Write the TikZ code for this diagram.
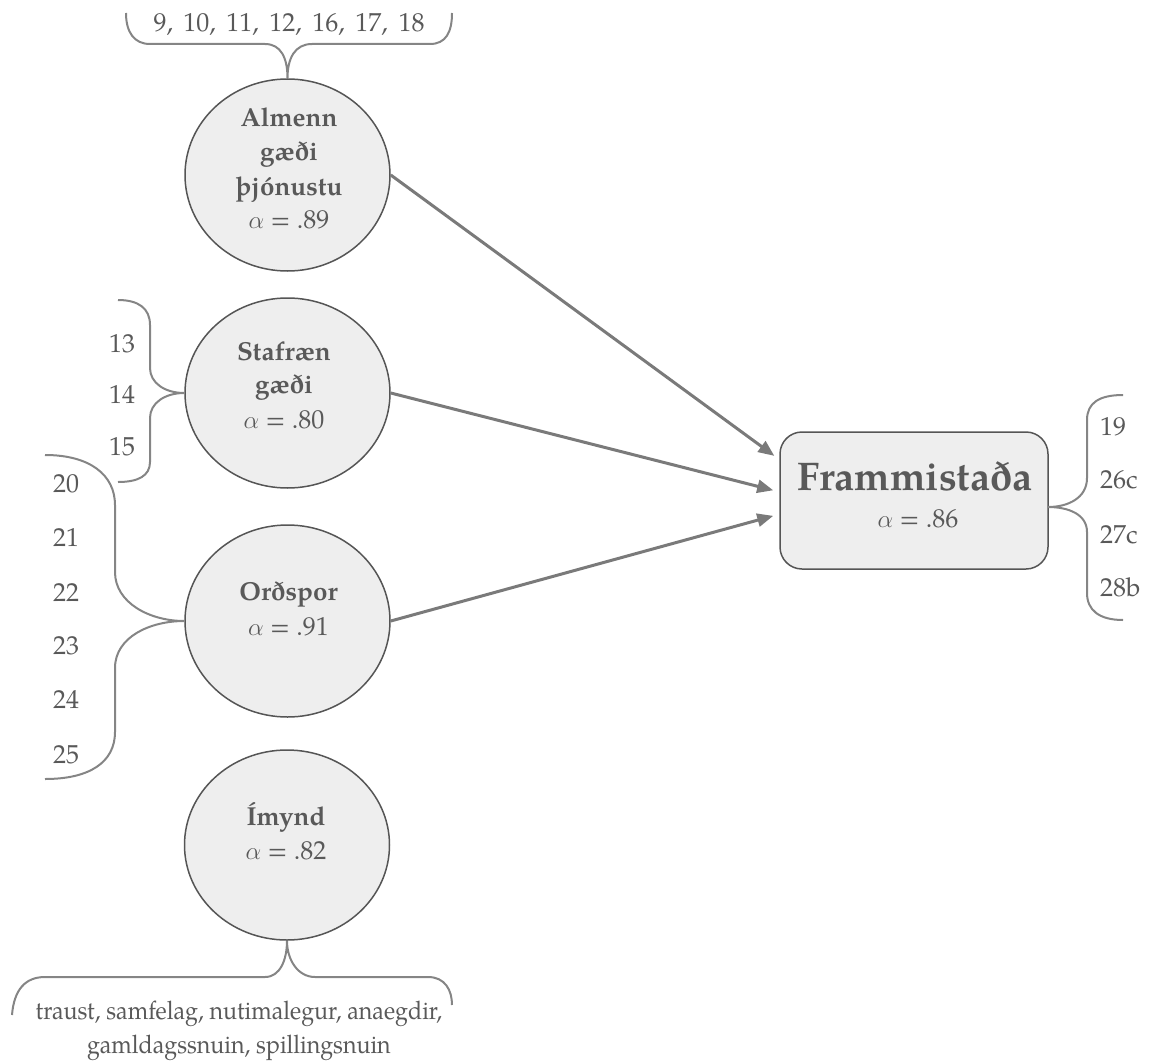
\documentclass[tikz,border=0pt]{standalone}
\usepackage{fontspec}
\setmainfont{TeX Gyre Pagella}
\newfontfamily\narrowpag[FakeStretch=0.91]{TeX Gyre Pagella}
\usetikzlibrary{shapes.geometric,arrows.meta}
\definecolor{txt}{HTML}{595959}
\definecolor{edge}{HTML}{555555}
\definecolor{fillc}{HTML}{EEEEEE}
\definecolor{brc}{HTML}{858585}
\definecolor{arr}{HTML}{7A7A7A}
\begin{document}
\begin{tikzpicture}[x=1pt,y=-1pt,
  lat/.style={ellipse,draw=edge,fill=fillc,line width=1.5pt,minimum width=205pt,minimum height=192pt,inner sep=0pt},
  ttl/.style={text=txt,font=\fontsize{26}{32}\selectfont\bfseries,inner sep=0pt,anchor=base},
  alp/.style={text=txt,font=\fontsize{26}{32}\selectfont,inner sep=0pt,anchor=base},
  num/.style={text=txt,font=\fontsize{26}{32}\selectfont,inner sep=0pt,anchor=base},
  rnum/.style={num,anchor=base west},
  brace/.style={draw=brc,line width=2pt},
  conn/.style={draw=arr,line width=3pt,-{Triangle[length=16pt,width=13pt]},shorten >=7pt}
]
\useasboundingbox (0,0) rectangle (1153,1062);

% latent variables
\node[lat] (a) at (287.5,175) {};
\node[lat,minimum height=190pt] (s) at (287.5,393) {};
\node[lat] (o) at (287.5,621) {};
\node[lat,minimum height=190pt] (i) at (287,845) {};
\node[draw=edge,fill=fillc,line width=1.5pt,rounded corners=22pt,minimum width=268pt,minimum height=137pt,inner sep=0pt] (f) at (914,500.5) {};

% texts in nodes
\node[ttl] (a1) at (289,127) {Almenn};
\node[ttl] (a2) at (289,160.5) {gæði};
\node[ttl] (a3) at (289,195) {þjónustu};
\node[alp] (a4) at (289,228) {$\alpha$ = .89};

\node[ttl] (s1) at (284,360) {Stafræn};
\node[ttl] (s2) at (284,393) {gæði};
\node[alp] (s3) at (284,428) {$\alpha$ = .80};

\node[ttl] (o1) at (288.5,600) {Orðspor};
\node[alp] (o2) at (288.5,635) {$\alpha$ = .91};

\node[ttl] (i1) at (286,825) {Ímynd};
\node[alp] (i2) at (286,859) {$\alpha$ = .82};

\node[anchor=base,text=txt,font=\fontsize{40}{48}\selectfont\bfseries,inner sep=0pt] (ft) at (915,490) {Frammistaða};
\node[alp] (fa) at (918,527) {$\alpha$ = .86};

% arrows
\coordinate (f1) at (780,460);
\coordinate (f2) at (780,492);
\coordinate (f3) at (780,514);
\draw[conn] (a.east) -- (f1);
\draw[conn] (s.east) -- (f2);
\draw[conn] (o.east) -- (f3);

% top brace
\node[num] (tt) at (289,32) {\spaceskip=10.5pt\relax 9, 10, 11, 12, 16, 17, 18};
\draw[brace] (126,13) .. controls (126,32) and (134,44) .. (150,44) -- (265,44) .. controls (281,44) and (287.5,58) .. (a.north)
  .. controls (287.5,58) and (295,44) .. (312,44) -- (430,44) .. controls (446,44) and (452,32) .. (452,13);

% Stafraen brace
\draw[brace] (118,300) .. controls (138,300) and (150,308) .. (150,325) -- (150,368) .. controls (150,383) and (165,393) .. (s.west)
  .. controls (165,393) and (150,403) .. (150,418) -- (150,462) .. controls (150,476) and (138,482) .. (118,482);
\node[num] (n13) at (122,352) {13};
\node[num] (n14) at (122,403) {14};
\node[num] (n15) at (122,455) {15};

% Ordspor brace
\draw[brace] (45,455) .. controls (90,455) and (115,475) .. (115,505) -- (115,572) .. controls (115,603) and (150,621) .. (o.west)
  .. controls (150,621) and (115,637) .. (115,668) -- (115,732) .. controls (115,762) and (90,779) .. (45,779);
\node[num] (n20) at (66,492) {20};
\node[num] (n21) at (66,546) {21};
\node[num] (n22) at (66,601) {22};
\node[num] (n23) at (66,654) {23};
\node[num] (n24) at (66,708) {24};
\node[num] (n25) at (66,763) {25};

% right brace
\coordinate (fb) at (1048,507);
\draw[brace] (1123,395) .. controls (1099,395) and (1087,403) .. (1087,420) -- (1087,478) .. controls (1087,498) and (1068,507) .. (fb)
  .. controls (1068,507) and (1087,514) .. (1087,532) -- (1087,593) .. controls (1087,610) and (1099,620) .. (1123,620);
\node[rnum] (n19) at (1100,435) {19};
\node[rnum] (n26) at (1100,488) {26c};
\node[rnum] (n27) at (1100,543) {27c};
\node[rnum] (n28) at (1100,596) {28b};

% bottom brace
\draw[brace] (12,1015) .. controls (14,990) and (25,977) .. (45,977) -- (265,977) .. controls (280,977) and (287,960) .. (i.south)
  .. controls (287,960) and (298,977) .. (315,977) -- (428,977) .. controls (445,977) and (452,990) .. (452,1005);
\node[num,font=\fontsize{25.5}{32}\narrowpag] (b1) at (239,1019) {traust, samfelag, nutimalegur, anaegdir,};
\node[num,font=\fontsize{25.5}{32}\narrowpag] (b2) at (239,1053) {gamldagssnuin, spillingsnuin};
\end{tikzpicture}
\end{document}
